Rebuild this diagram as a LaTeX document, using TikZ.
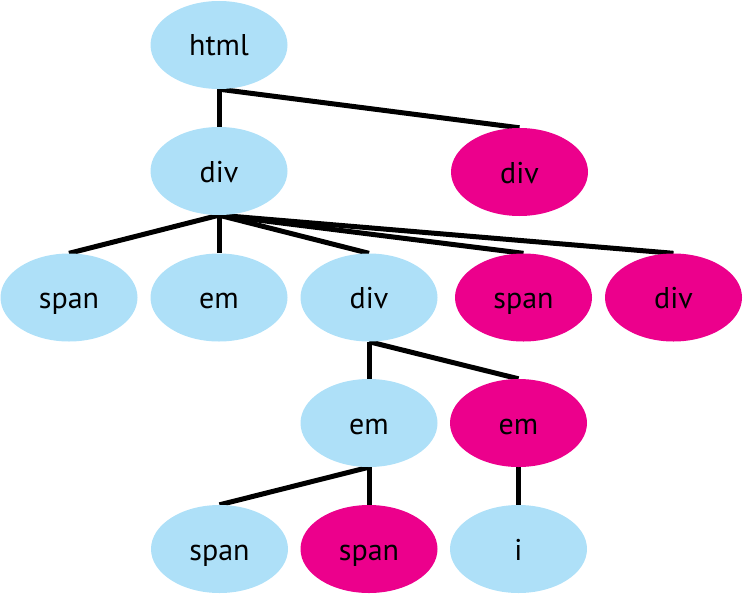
\documentclass[tikz,border=0pt]{standalone}
\usepackage{fontspec}
\setmainfont{PT Sans}
\usetikzlibrary{shapes.geometric,backgrounds}
\definecolor{lblue}{RGB}{174,224,248}
\definecolor{mag}{RGB}{236,0,140}
\tikzset{
  x=1pt, y=-1pt,
  elem/.style={ellipse, minimum width=137pt, minimum height=88pt, inner sep=0pt, text height=22pt, text depth=0pt, font=\fontsize{30}{32}\selectfont, text=black},
  blue/.style={elem, fill=lblue},
  pink/.style={elem, fill=mag},
  edge/.style={line width=5pt, black}
}
\begin{document}
\begin{tikzpicture}
\useasboundingbox (0,0) rectangle (743,594);
\node[blue] (html) at (219,45) {html};
\node[blue] (d1) at (219,171) {div};
\node[pink] (d2) at (519.5,172) {div};
\node[blue] (s1) at (69,297.5) {span};
\node[blue] (e1) at (219,297.5) {em};
\node[blue] (d3) at (369,297.5) {div};
\node[pink] (s2) at (523.5,297.5) {span};
\node[pink] (d4) at (673.5,297.5) {div};
\node[blue] (e2) at (369,423) {em};
\node[pink] (e3) at (518.5,423) {em};
\node[blue] (s3) at (219.5,549) {span};
\node[pink] (s4) at (369,549) {span};
\node[blue] (i1) at (518.5,549) {i};
\begin{scope}[on background layer]
\draw[edge] (html.south) -- (d1.north);
\draw[edge] (html.south) -- (d2.north);
\draw[edge] (d1.south) -- (s1.north);
\draw[edge] (d1.south) -- (e1.north);
\draw[edge] (d1.south) -- (d3.north);
\draw[edge] (d1.south) -- (s2.north);
\draw[edge] (d1.south) -- (d4.north);
\draw[edge] (d3.south) -- (e2.north);
\draw[edge] (d3.south) -- (e3.north);
\draw[edge] (e2.south) -- (s3.north);
\draw[edge] (e2.south) -- (s4.north);
\draw[edge] (e3.south) -- (i1.north);
\end{scope}
\end{tikzpicture}
\end{document}
